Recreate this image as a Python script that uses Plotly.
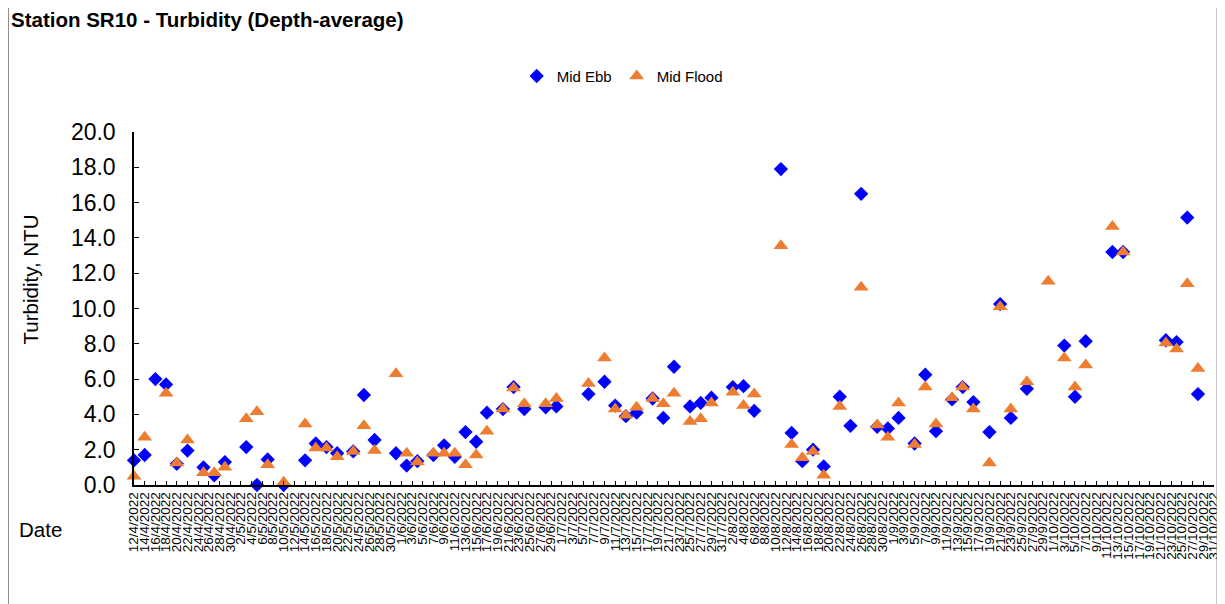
import pandas as pd
import plotly.graph_objects as go

# sampling dates and depth-averaged turbidity (NTU)
dates = ["2022-04-12", "2022-04-14", "2022-04-16", "2022-04-18", "2022-04-20", "2022-04-22",
         "2022-04-25", "2022-04-27", "2022-04-29", "2022-05-03", "2022-05-05", "2022-05-07",
         "2022-05-10", "2022-05-14", "2022-05-16", "2022-05-18", "2022-05-20", "2022-05-23",
         "2022-05-25", "2022-05-27", "2022-05-31", "2022-06-02", "2022-06-04", "2022-06-07",
         "2022-06-09", "2022-06-11", "2022-06-13", "2022-06-15", "2022-06-17", "2022-06-20",
         "2022-06-22", "2022-06-24", "2022-06-28", "2022-06-30", "2022-07-06", "2022-07-09",
         "2022-07-11", "2022-07-13", "2022-07-15", "2022-07-18", "2022-07-20", "2022-07-22",
         "2022-07-25", "2022-07-27", "2022-07-29", "2022-08-02", "2022-08-04", "2022-08-06",
         "2022-08-11", "2022-08-13", "2022-08-15", "2022-08-17", "2022-08-19", "2022-08-22",
         "2022-08-24", "2022-08-26", "2022-08-29", "2022-08-31", "2022-09-02", "2022-09-05",
         "2022-09-07", "2022-09-09", "2022-09-12", "2022-09-14", "2022-09-16", "2022-09-19",
         "2022-09-21", "2022-09-23", "2022-09-26", "2022-09-30", "2022-10-03", "2022-10-05",
         "2022-10-07", "2022-10-12", "2022-10-14", "2022-10-22", "2022-10-24", "2022-10-26",
         "2022-10-28"]

mid_ebb = [1.4, 1.7, 6.0, 5.7, 1.2, 1.95,
           1.0, 0.55, 1.3, 2.15, 0.0, 1.45,
           0.0, 1.4, 2.35, 2.15, 1.8, 1.9,
           5.1, 2.55, 1.8, 1.1, 1.35, 1.7,
           2.25, 1.6, 3.0, 2.45, 4.1, 4.3,
           5.55, 4.3, 4.4, 4.45, 5.15, 5.85,
           4.5, 3.9, 4.1, 4.9, 3.8, 6.7,
           4.45, 4.65, 4.95, 5.55, 5.6, 4.2,
           17.9, 2.95, 1.35, 2.0, 1.05, 5.0,
           3.35, 16.5, 3.3, 3.2, 3.8, 2.35,
           6.25, 3.05, 4.85, 5.55, 4.7, 3.0,
           10.25, 3.8, 5.45, None, 7.9, 5.0,
           8.15, 13.2, 13.2, 8.2, 8.1, 15.15,
           5.15]

mid_flood = [0.5, 2.7, None, 5.2, 1.25, 2.55,
             0.7, 0.7, 1.0, 3.75, 4.15, 1.15,
             0.15, 3.45, 2.1, 2.1, 1.6, 1.9,
             3.35, 1.95, 6.3, 1.8, 1.3, 1.8,
             1.8, 1.8, 1.15, 1.7, 3.05, 4.3,
             5.5, 4.6, 4.6, 4.9, 5.75, 7.2,
             4.3, 3.95, 4.4, 4.9, 4.6, 5.2,
             3.6, 3.75, 4.65, 5.25, 4.5, 5.15,
             13.55, 2.3, 1.55, 1.9, 0.55, 4.45,
             None, 11.2, 3.4, 2.7, 4.65, 2.3,
             5.55, 3.45, 4.95, 5.55, 4.3, 1.25,
             10.1, 4.3, 5.85, 11.55, 7.2, 5.55,
             6.8, 14.65, 13.2, 8.05, 7.7, 11.4,
             6.6]

df = pd.DataFrame({"Date": pd.to_datetime(dates), "Mid Ebb": mid_ebb, "Mid Flood": mid_flood})

FONT = "Liberation Sans, Arial, sans-serif"

fig = go.Figure()
fig.add_trace(go.Scatter(x=df["Date"], y=df["Mid Ebb"], mode="markers", name="Mid Ebb",
                         marker=dict(symbol="diamond", size=11, color="#0000FF"),
                         cliponaxis=False))
fig.add_trace(go.Scatter(x=df["Date"], y=df["Mid Flood"], mode="markers", name="Mid Flood",
                         marker=dict(symbol="triangle-up", size=13, color="#ED7D31"),
                         cliponaxis=False))

# the page body adds an 8px offset, margins compensate for it
fig.update_layout(
    width=1225, height=604,
    margin=dict(l=126, r=15, t=124, b=127),
    paper_bgcolor="white", plot_bgcolor="white",
    font=dict(family=FONT, color="black"),
    showlegend=True,
    legend=dict(orientation="h", x=0.452, y=1.158, xanchor="center", yanchor="middle",
                font=dict(size=15), itemwidth=30,
                bgcolor="rgba(0,0,0,0)"),
    xaxis=dict(type="date", range=["2022-04-12", "2022-10-31"],
               tick0="2022-04-12", dtick=2 * 86400000, tickformat="%-d/%-m/%Y",
               tickangle=-90, tickfont=dict(size=13.5),
               showline=True, linecolor="black", linewidth=1.5,
               ticks="inside", ticklen=4, tickcolor="black",
               showgrid=False, zeroline=False),
    yaxis=dict(range=[0, 20], dtick=2, tickformat=".1f",
               tickfont=dict(size=23), ticklabelstandoff=12,
               showline=True, linecolor="black", linewidth=1.5,
               ticks="inside", ticklen=5, tickcolor="black",
               showgrid=False, zeroline=False),
)

fig.add_annotation(text="<b>Station SR10 - Turbidity (Depth-average)</b>",
                   xref="paper", yref="paper", x=-0.1162, y=1.318,
                   xanchor="left", yanchor="middle", showarrow=False,
                   font=dict(size=20.5))
fig.add_annotation(text="Turbidity, NTU", xref="paper", yref="paper", x=-0.0955, y=0.582,
                   xanchor="center", yanchor="middle", textangle=-90, showarrow=False,
                   font=dict(size=20.5))
fig.add_annotation(text="Date", xref="paper", yref="paper", x=-0.1087, y=-0.127,
                   xanchor="left", yanchor="middle", showarrow=False,
                   font=dict(size=20.5))

# outer chart border
fig.add_shape(type="rect", xref="paper", yref="paper",
              x0=-0.1162, x1=1.0028, y0=-0.36, y1=1.365,
              line=dict(color="#8c8c8c", width=1), fillcolor="rgba(0,0,0,0)")

fig.write_html("out.html")
